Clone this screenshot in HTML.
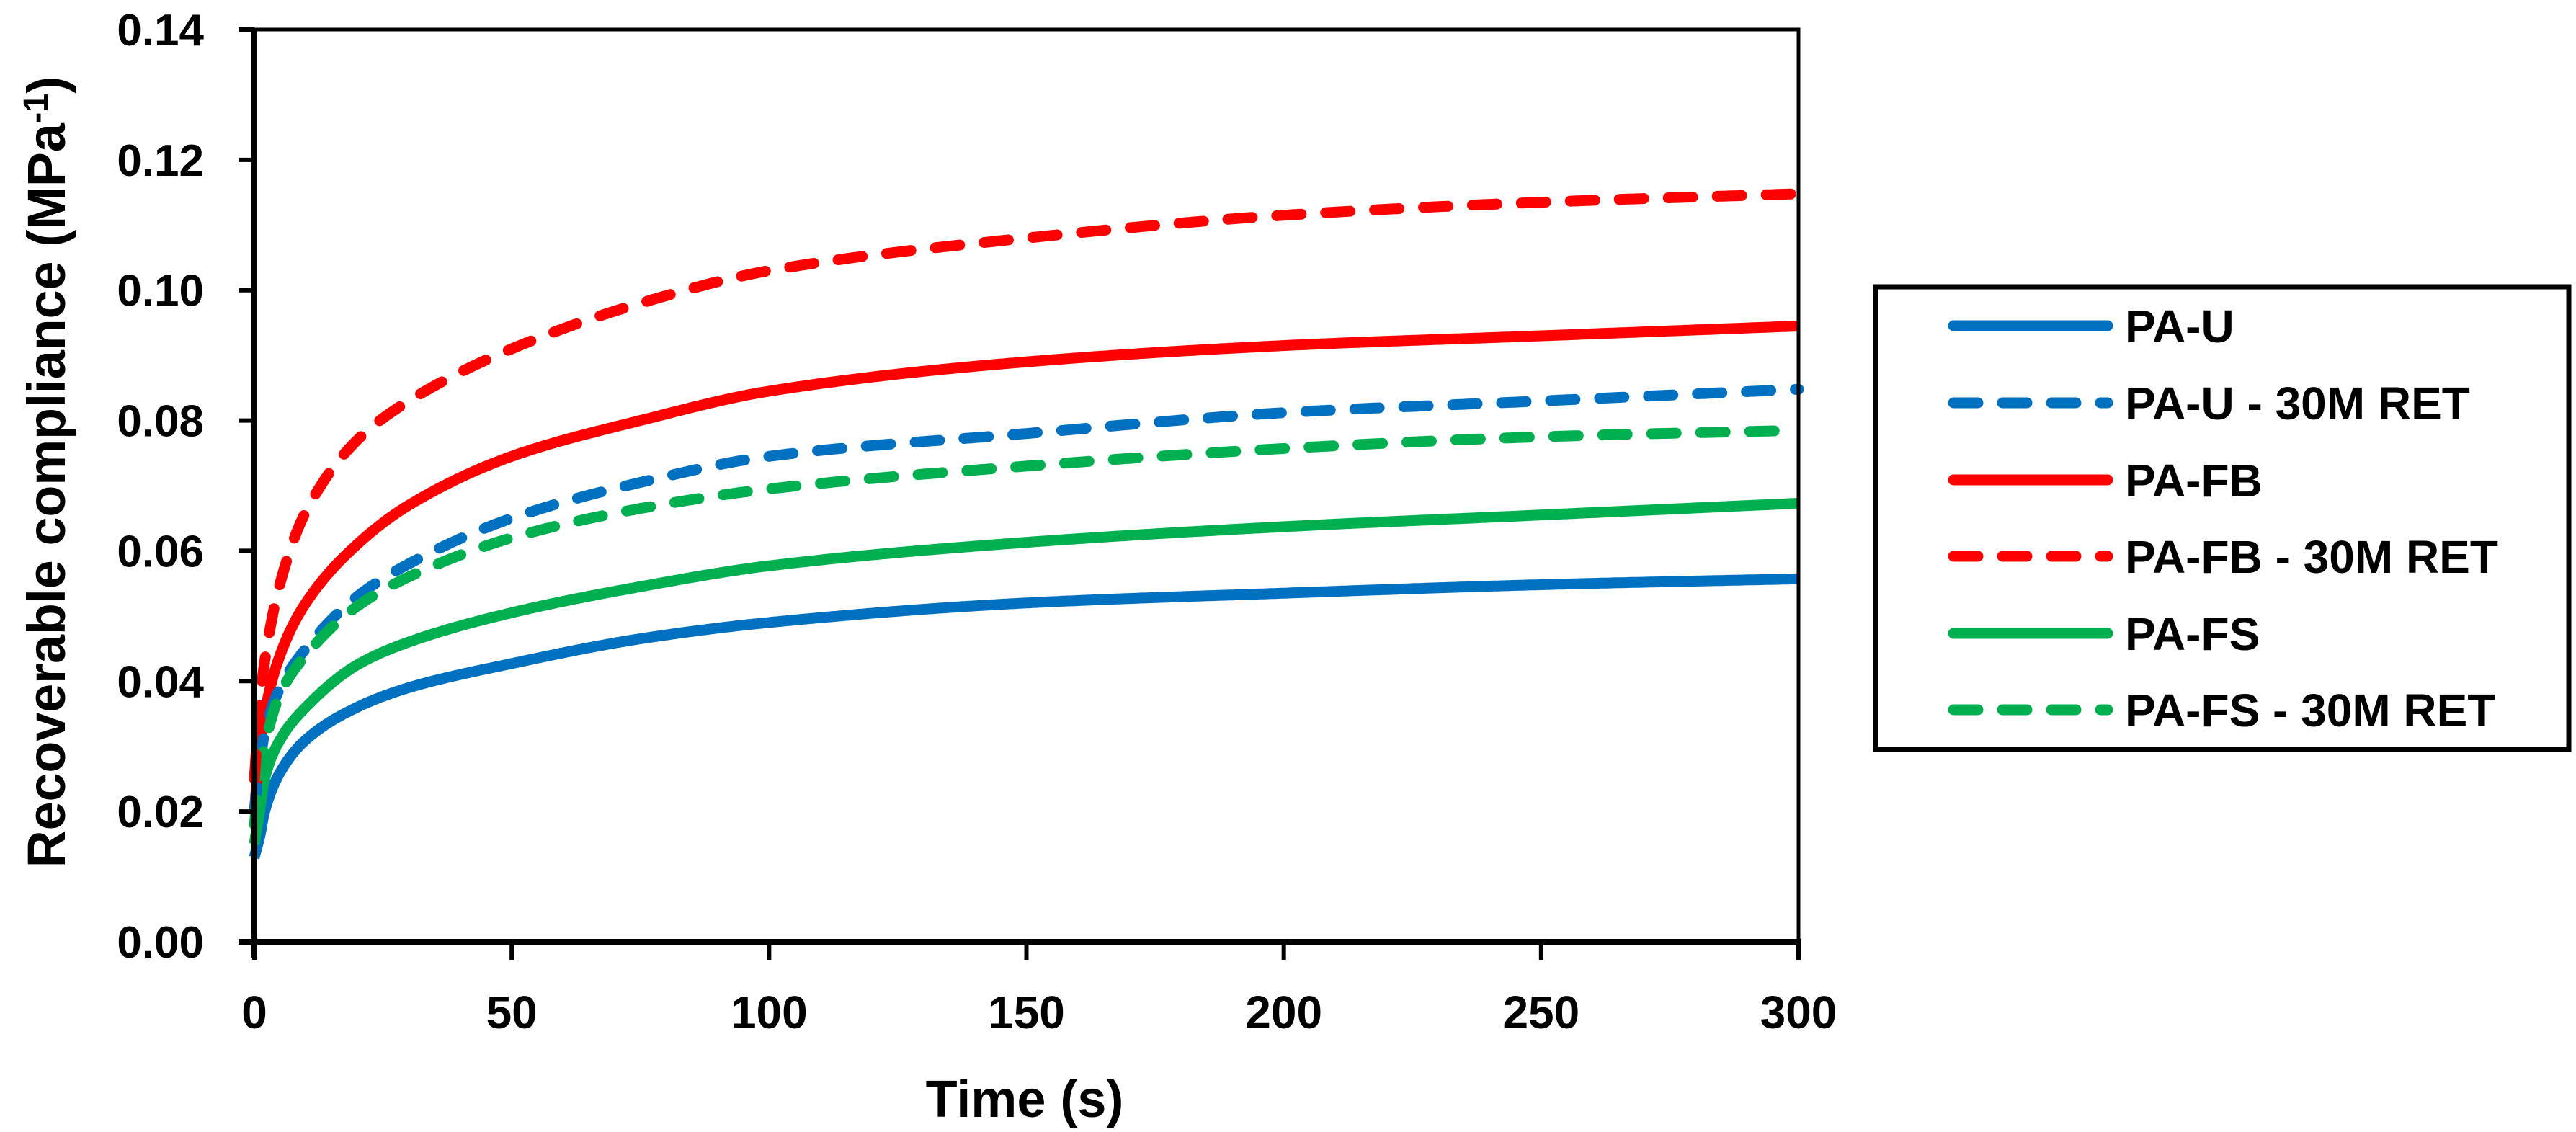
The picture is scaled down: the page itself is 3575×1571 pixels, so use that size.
<!DOCTYPE html>
<html><head><meta charset="utf-8"><style>
body{margin:0;background:#fff}
svg{display:block}
text{font-family:"Liberation Sans",sans-serif;font-weight:bold;fill:#000}
</style></head><body>
<svg id="chart" width="3575" height="1571" viewBox="0 0 3575 1571" xmlns="http://www.w3.org/2000/svg">
<g id="plot"></g>
<g id="axes"></g>
<text x="1422" y="1550" font-size="72" text-anchor="middle">Time (s)</text>
<text transform="translate(90,655) rotate(-90) scale(0.97,1)" font-size="74" text-anchor="middle">Recoverable compliance (MPa<tspan dy="-24" font-size="48">-1</tspan><tspan dy="24">)</tspan></text>
<rect x="2603" y="398" width="962" height="642" fill="#fff" stroke="#000" stroke-width="7"/>
<g id="legend"></g>
</svg>
<script>
const times = [0, 1, 2, 5, 10, 20, 30, 50, 75, 100, 150, 200, 250, 300];
const seriesNames = ["PA-U", "PA-U - 30M RET", "PA-FB", "PA-FB - 30M RET", "PA-FS", "PA-FS - 30M RET"];
const paU   = [0.013, 0.016, 0.020, 0.026, 0.031, 0.036, 0.039, 0.0427, 0.0465, 0.049, 0.052, 0.0535, 0.0548, 0.0557];
const paUR  = [0.020, 0.027, 0.032, 0.039, 0.045, 0.053, 0.058, 0.065, 0.0705, 0.0745, 0.078, 0.0812, 0.083, 0.0848];
const paFB  = [0.020, 0.029, 0.035, 0.044, 0.052, 0.061, 0.067, 0.0745, 0.080, 0.0845, 0.089, 0.0915, 0.093, 0.0945];
const paFBR = [0.025, 0.036, 0.043, 0.055, 0.066, 0.077, 0.083, 0.091, 0.098, 0.103, 0.108, 0.1115, 0.1135, 0.1148];
const paFS  = [0.015, 0.020, 0.025, 0.031, 0.036, 0.0425, 0.046, 0.0505, 0.0545, 0.0577, 0.0613, 0.0637, 0.0655, 0.0673];
const paFSR = [0.018, 0.025, 0.030, 0.038, 0.044, 0.0515, 0.056, 0.062, 0.0665, 0.0695, 0.073, 0.0757, 0.0775, 0.0785];
const xTicks = [0, 50, 100, 150, 200, 250, 300];
const yTicks = [0, 0.02, 0.04, 0.06, 0.08, 0.10, 0.12, 0.14];
const yTickLabels = ["0.00","0.02","0.04","0.06","0.08","0.10","0.12","0.14"];

const L=353,R=2496,T=41,B=1307;
const xs=v=>L+(v/300)*(R-L);
const ys=v=>B-(v/0.14)*(B-T);
const NS="http://www.w3.org/2000/svg";
function mk(tag,attrs,parent){const e=document.createElementNS(NS,tag);for(const k in attrs)e.setAttribute(k,attrs[k]);parent.appendChild(e);return e;}
// monotone cubic (Fritsch-Carlson) interpolation in data space
function monotone(X,Y){
  const n=X.length,d=[],m=new Array(n);
  for(let i=0;i<n-1;i++)d.push((Y[i+1]-Y[i])/(X[i+1]-X[i]));
  m[0]=d[0];m[n-1]=d[n-2];
  for(let i=1;i<n-1;i++){
    if(d[i-1]*d[i]<=0)m[i]=0;
    else{const w1=2*(X[i+1]-X[i])+(X[i]-X[i-1]),w2=(X[i+1]-X[i])+2*(X[i]-X[i-1]);m[i]=(w1+w2)/(w1/d[i-1]+w2/d[i]);}
  }
  return t=>{
    let i=0;while(i<n-2&&t>X[i+1])i++;
    const h=X[i+1]-X[i],s=(t-X[i])/h,s2=s*s,s3=s2*s;
    return (2*s3-3*s2+1)*Y[i]+(s3-2*s2+s)*h*m[i]+(-2*s3+3*s2)*Y[i+1]+(s3-s2)*h*m[i+1];
  };
}
const plot=document.getElementById('plot'),axes=document.getElementById('axes'),legend=document.getElementById('legend');
const series=[paU,paUR,paFB,paFBR,paFS,paFSR];
const colors=["#0070C0","#0070C0","#FF0000","#FF0000","#00B050","#00B050"];
const dashed=[false,true,false,true,false,true];
const keys=["pa-u","pa-u-30m-ret","pa-fb","pa-fb-30m-ret","pa-fs","pa-fs-30m-ret"];
const order=[0,4,2,1,5,3];
order.forEach(i=>{
  const f=monotone(times,series[i]);
  const tmax=times[times.length-1];
  const pts=[];
  for(let k=0;k<=600;k++){const t=tmax*Math.pow(k/600,1.6);pts.push(xs(t).toFixed(1)+","+ys(f(t)).toFixed(1));}
  const a={points:pts.join(" "),fill:"none",stroke:colors[i],"stroke-width":15,"stroke-linejoin":"round"};
  if(dashed[i]){a["stroke-dasharray"]="34 34";a["stroke-linecap"]="round";}
  const p=mk('polyline',a,plot);
  
  
});
const fr=mk('rect',{x:L,y:T,width:R-L,height:B-T,fill:"none",stroke:"#000","stroke-width":5},axes);


const ya=mk('line',{x1:L,y1:T-2,x2:L,y2:B+22,stroke:"#000","stroke-width":8},axes);


const xa=mk('line',{x1:L-22,y1:B,x2:R+3,y2:B,stroke:"#000","stroke-width":8},axes);


yTicks.forEach((v,i)=>{
  const tk=mk('line',{x1:L-22,y1:ys(v),x2:L,y2:ys(v),stroke:"#000","stroke-width":6},axes);
  
  
  const tx=mk('text',{x:283,y:ys(v)+22,"font-size":62,"text-anchor":"end"},axes);
  tx.textContent=yTickLabels[i];
  
  
});
xTicks.forEach(v=>{
  const tk=mk('line',{x1:xs(v),y1:B,x2:xs(v),y2:B+25,stroke:"#000","stroke-width":6},axes);
  
  
  const tx=mk('text',{x:xs(v),y:1427,"font-size":64,"text-anchor":"middle"},axes);
  tx.textContent=String(v);
  
  
});
const rowY=[452,559,666,772,879,985];
seriesNames.forEach((n,i)=>{
  const a={x1:2711,y1:rowY[i],x2:2925,y2:rowY[i],stroke:colors[i],"stroke-width":15,"stroke-linecap":"round"};
  if(dashed[i])a["stroke-dasharray"]="34 34";
  const ln=mk('line',a,legend);
  
  
  const tx=mk('text',{x:2949,y:rowY[i]+23,"font-size":64},legend);
  tx.textContent=n;
  
  
});
</script>
</body></html>
